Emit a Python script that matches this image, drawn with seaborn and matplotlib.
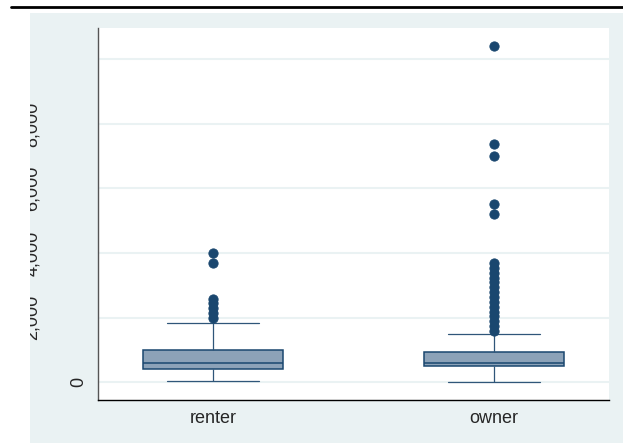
import matplotlib
matplotlib.use("Agg")
import matplotlib.pyplot as plt
from matplotlib.patches import Rectangle
from matplotlib.lines import Line2D
from matplotlib.transforms import Bbox, TransformedBbox
import pandas as pd
import seaborn as sns

# Housing expenditure by tenure
renter = [40, 95, 150, 200, 250, 290, 330, 370, 410,
          430, 455, 480, 505, 530, 555, 575, 595,
          640, 690, 740, 790, 840, 895, 950, 1000,
          1840, 2000, 2150, 2300, 2440, 2580, 3690, 4010]
owner = [20, 60, 100, 140, 180, 215, 250, 280, 305, 330, 350, 370, 390,
         405, 420, 432, 444, 455, 465, 474, 482, 488, 492,
         495,
         499, 503, 507, 511, 515, 519, 523, 527, 531, 535, 539,
         543, 547, 551, 555, 559, 563, 567, 571, 575, 579, 582,
         585,
         600, 615, 630, 645, 660, 675, 690, 705, 720, 735, 750,
         765, 780, 795, 810, 825, 840, 855, 870, 885, 900, 912,
         925,
         1150, 1330, 1500,
         1590, 1740, 1890, 2040, 2190, 2340, 2490, 2640, 2790, 2940,
         3090, 3240, 3390, 3540, 3700,
         5200, 5530, 7010, 7370, 10400]
groups = ["renter", "owner"]
y_ticks = [0, 2000, 4000, 6000, 8000, 10000]
y_labels = ["0", "2,000", "4,000", "6,000", "8,000", ""]

df = pd.DataFrame({
    "tenure": ["renter"] * len(renter) + ["owner"] * len(owner),
    "value": renter + owner,
})

NAVY = "#1a476f"
WHISK = "#2f5679"
FILL = "#8ca2b8"
BG = "#eaf2f3"

sns.set_style("white")
plt.rcParams["font.family"] = ["Liberation Sans", "DejaVu Sans"]

W, H = 623, 443
fig = plt.figure(figsize=(W / 100, H / 100), dpi=100)
fig.patch.set_facecolor("white")

# outer graph region and top rule
fig.add_artist(Rectangle((30 / W, 0), (W - 30) / W, (H - 13) / H,
                         transform=fig.transFigure, facecolor=BG,
                         edgecolor="none", zorder=-1))
fig.add_artist(Line2D([11 / W, 1], [(H - 7) / H] * 2,
                      transform=fig.transFigure, color="black", lw=2.0))

ax = fig.add_axes([98 / W, (H - 400) / H, (609 - 98) / W, (400 - 28) / H])
ax.set_facecolor("white")

sns.boxplot(data=df, x="tenure", y="value", order=groups, ax=ax,
            width=0.5, color=FILL, saturation=1, linecolor=NAVY,
            linewidth=1.1, fliersize=6.7, capwidths=0.33,
            flierprops=dict(marker="o", markerfacecolor=NAVY,
                            markeredgecolor=NAVY, markeredgewidth=0.6),
            whiskerprops=dict(lw=0.9, color=WHISK),
            capprops=dict(lw=0.9, color=WHISK))

ax.set_xlim(-0.41, 1.41)
ax.set_ylim(-548, 10969)
ax.set_xlabel("")
ax.set_ylabel("")

ax.yaxis.grid(True, color=BG, lw=1.5)
ax.set_axisbelow(True)

for side in ("top", "right"):
    ax.spines[side].set_visible(False)
ax.spines["left"].set_color("#555555")
ax.spines["left"].set_linewidth(1.0)
ax.spines["bottom"].set_color("black")
ax.spines["bottom"].set_linewidth(1.0)

ax.set_yticks(y_ticks)
ax.set_yticklabels(y_labels)
ax.tick_params(axis="y", length=5, width=0.8, color="#555555",
               labelsize=13, labelrotation=90, pad=2.5)
ax.tick_params(axis="x", length=0, labelsize=13, pad=7)
for lab in ax.get_yticklabels():
    lab.set_va("center")

# the longer value labels sit further out and are cut by the graph region
clip = TransformedBbox(Bbox([[30 / W, 0], [1, (H - 13) / H]]), fig.transFigure)
for tick in ax.yaxis.get_major_ticks()[1:]:
    tick.set_pad(36)
    tick.label1.set_clip_box(clip)
    tick.label1.set_clip_on(True)

fig.savefig("out.png", dpi=100)
